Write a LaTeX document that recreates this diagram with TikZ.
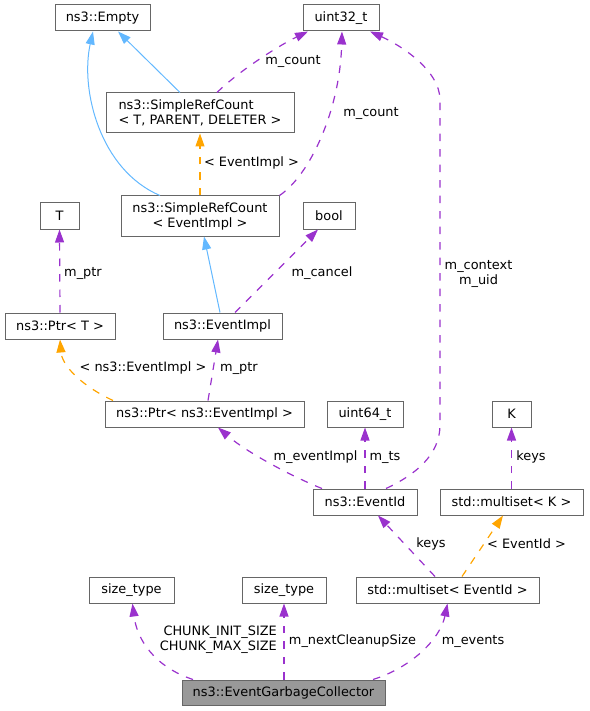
\documentclass[tikz,border=0pt]{standalone}
\usepackage{fontspec}
\setmainfont{DejaVu Sans}
\usetikzlibrary{arrows.meta}
\definecolor{boxgray}{HTML}{666666}
\definecolor{mainfill}{HTML}{999999}
\definecolor{relpurple}{HTML}{9A32CD}
\definecolor{tplorange}{HTML}{FFA500}
\definecolor{inhblue}{HTML}{63B8FF}
\begin{document}
\begin{tikzpicture}[x=1pt,y=-1pt,
  every node/.style={font=\fontsize{12.9}{15}\selectfont},
  box/.style={draw=boxgray, fill=white, line width=1pt, inner sep=0pt, align=center, minimum height=26pt},
  mainbox/.style={box, fill=mainfill},
  lbl/.style={inner sep=0pt, align=center},
  rel/.style={draw=relpurple, line width=1.2pt, dash pattern=on 7.5pt off 8pt, -{Triangle[length=13pt,width=9pt,fill=relpurple]}},
  tpl/.style={draw=tplorange, line width=1.2pt, dash pattern=on 7.5pt off 8pt, -{Triangle[length=13pt,width=9pt,fill=tplorange]}},
  inh/.style={draw=inhblue, line width=1pt, -{Triangle[length=13pt,width=9pt,fill=inhblue]}}
]
\useasboundingbox (0,0) rectangle (589,711);

% nodes
\node[box, minimum width=95pt] (empty) at (102.5,18) {ns3::Empty};
\node[box, minimum width=76pt] (u32) at (341,18) {uint32\_t};
\node[box, minimum width=188pt, minimum height=40pt, align=left] (srtpd) at (200,113) {ns3::SimpleRefCount\\< T, PARENT, DELETER >};
\node[box, minimum width=158pt, minimum height=40pt] (srce) at (200,216) {ns3::SimpleRefCount\\< EventImpl >};
\node[box, minimum width=39pt] (tt) at (59.5,216) {T};
\node[box, minimum width=52pt] (bool) at (329,216) {bool};
\node[box, minimum width=110pt] (ptrt) at (60,326) {ns3::Ptr< T >};
\node[box, minimum width=119pt] (eimpl) at (222.5,326) {ns3::EventImpl};
\node[box, minimum width=199pt] (ptre) at (204.5,414) {ns3::Ptr< ns3::EventImpl >};
\node[box, minimum width=76pt] (u64) at (365,414) {uint64\_t};
\node[box, minimum width=39pt] (kk) at (511.5,414) {K};
\node[box, minimum width=104pt] (evid) at (365,502) {ns3::EventId};
\node[box, minimum width=143pt] (msk) at (511.5,502) {std::multiset< K >};
\node[box, minimum width=85pt] (st1) at (131.5,590) {size\_type};
\node[box, minimum width=84pt] (st2) at (284,590) {size\_type};
\node[box, minimum width=183pt] (mse) at (447.5,590) {std::multiset< EventId >};
\node[mainbox, minimum width=203pt, minimum height=25pt] (egc) at (283.5,692.5) {ns3::EventGarbageCollector};

% connectors
\draw[inh] ([xshift=-20pt]srtpd.north) -- ([xshift=15.5pt]empty.south);
\draw[inh] ([xshift=-40pt]srce.north) .. controls (100,170) and (80,90) .. ([xshift=-9.5pt]empty.south);
\draw[tpl] (srce.north) -- (srtpd.south);
\draw[rel] ([xshift=17pt]srtpd.north) .. controls (240,70) and (280,45) .. ([xshift=-33pt]u32.south);
\draw[rel] (srce.north east) .. controls (310,175) and (340,110) .. ([xshift=1pt]u32.south);
\draw[inh] ([xshift=-2.5pt]eimpl.north) -- ([xshift=4pt]srce.south);
\draw[rel] ([xshift=12.5pt]eimpl.north) -- ([xshift=-11pt]bool.south);
\draw[rel] (ptrt.north) -- (tt.south);
\draw[tpl] ([xshift=-91.5pt]ptre.north) .. controls (80,385) and (62,365) .. (ptrt.south);
\draw[rel] ([xshift=3.5pt]ptre.north) -- ([xshift=-4.5pt]eimpl.south);
\draw[rel] ([xshift=-43pt]evid.north) .. controls (300,480) and (250,455) .. ([xshift=13.5pt]ptre.south);
\draw[rel] (evid.north) -- (u64.south);
\coordinate (ctxlow) at (440,425);
\coordinate (ctxhigh) at (440,100);
\draw[rel] ([xshift=21pt]evid.north) .. controls (415,475) and (440,455) .. (ctxlow) -- (ctxhigh) .. controls (440,70) and (400,45) .. ([xshift=29pt]u32.south);
\draw[rel] (msk.north) -- (kk.south);
\draw[rel] ([xshift=-12.5pt]mse.north) -- ([xshift=13pt]evid.south);
\draw[tpl] ([xshift=14.5pt]mse.north) -- ([xshift=-8.5pt]msk.south);
\draw[rel] ([xshift=-90.5pt]egc.north) .. controls (155,667) and (137,640) .. ([xshift=1pt]st1.south);
\draw[rel] ([xshift=0.5pt]egc.north) -- (st2.south);
\draw[rel] ([xshift=89.5pt]egc.north) .. controls (410,668) and (440,640) .. (mse.south);

% labels
\node[lbl] (l1) at (293,61) {m\_count};
\node[lbl] (l2) at (371,113) {m\_count};
\node[lbl] (l3) at (251.5,163) {< EventImpl >};
\node[lbl] (l4) at (322,273) {m\_cancel};
\node[lbl] (l5) at (83,273) {m\_ptr};
\node[lbl] (l6) at (478.5,274) {m\_context\\m\_uid};
\node[lbl] (l7) at (143,368) {< ns3::EventImpl >};
\node[lbl] (l8) at (239,368) {m\_ptr};
\node[lbl] (l9) at (315.5,457) {m\_eventImpl};
\node[lbl] (l10) at (385,457) {m\_ts};
\node[lbl] (l11) at (531,457) {keys};
\node[lbl] (l12) at (431,544) {keys};
\node[lbl] (l13) at (526.5,544) {< EventId >};
\node[lbl, anchor=east, align=right] (l14) at (277,640) {CHUNK\_INIT\_SIZE\\CHUNK\_MAX\_SIZE};
\node[lbl] (l15) at (352.5,641) {m\_nextCleanupSize};
\node[lbl] (l16) at (473,641) {m\_events};
\end{tikzpicture}
\end{document}
